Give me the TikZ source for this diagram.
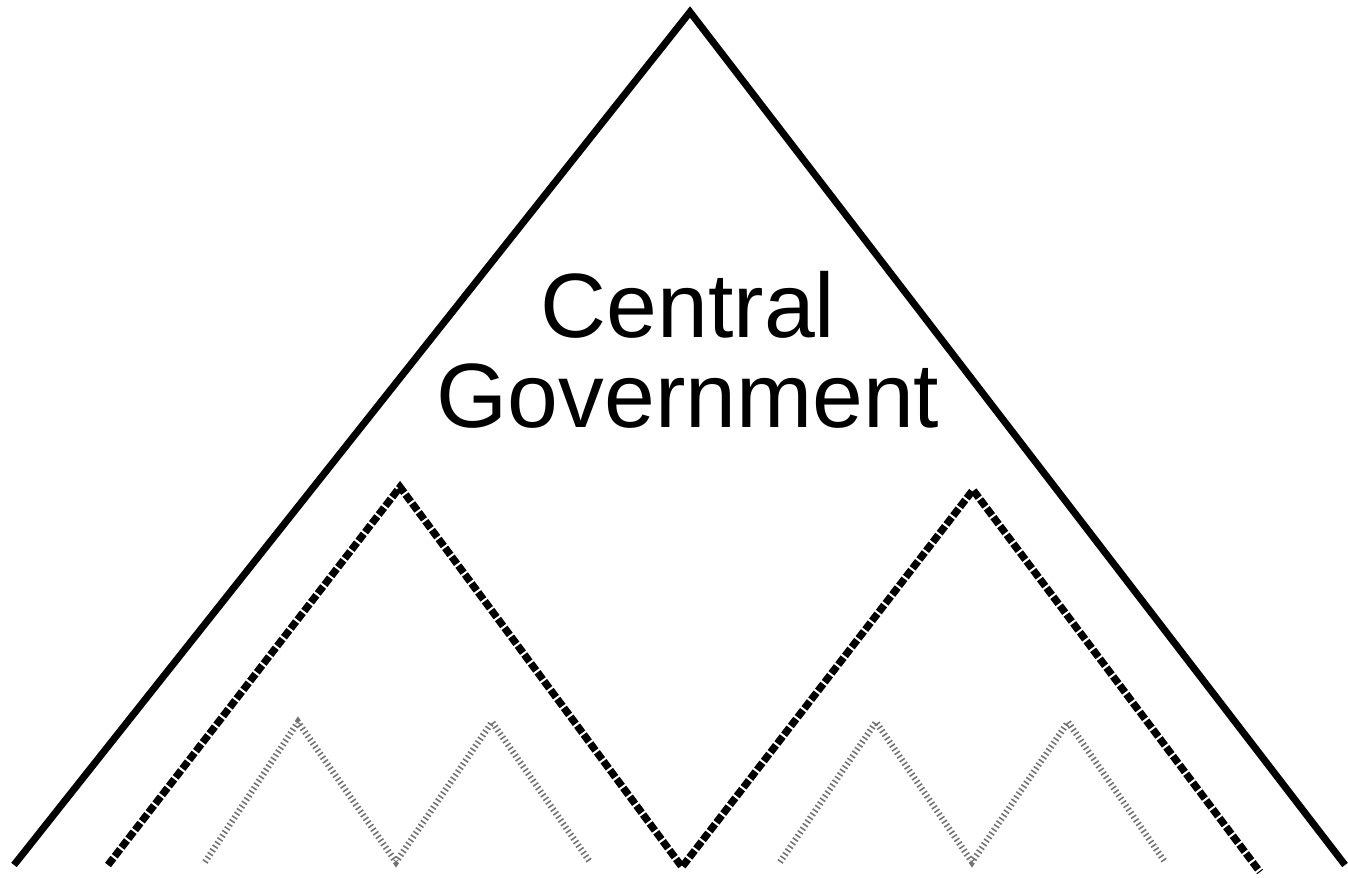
\documentclass[tikz,border=0pt]{standalone}
\usepackage{fontspec}
\setmainfont{Liberation Sans}
\begin{document}
\begin{tikzpicture}[x=0.02cm, y=-0.02cm,
                    main_style/.style={draw=black, line width=4pt, line join=miter},
                    mid_style/.style={draw=black, line width=4.2pt, dash pattern=on 5pt off 1.3pt},
                    low_style/.style={draw=black!55, line width=3.6pt, dash pattern=on 0.9pt off 1.6pt}]
                    \useasboundingbox (0,0) rectangle (1348,878);
                    % central government
                    \coordinate (c1) at (14, 865);
                    \coordinate (c2) at (690, 12);
                    \coordinate (c3) at (1345, 865);
                    % regional level
                    \coordinate (r1) at (108, 865);
                    \coordinate (r2) at (400, 487);
                    \coordinate (r3) at (682, 867);
                    \coordinate (r4) at (973, 490);
                    \coordinate (r5) at (1260, 872);
                    % local level
                    \coordinate (l1) at (205, 862);
                    \coordinate (l2) at (298, 722);
                    \coordinate (l3) at (396, 862);
                    \coordinate (l4) at (492, 722);
                    \coordinate (l5) at (590, 862);
                    \coordinate (l6) at (780, 862);
                    \coordinate (l7) at (876, 722);
                    \coordinate (l8) at (972, 862);
                    \coordinate (l9) at (1068, 722);
                    \coordinate (l10) at (1165, 862);
                    \draw[main_style] (c1) -- (c2) -- (c3);
                    \draw[mid_style] (r1) -- (r2) -- (r3) -- (r4) -- (r5);
                    \draw[low_style] (l1) -- (l2) -- (l3) -- (l4) -- (l5);
                    \draw[low_style] (l6) -- (l7) -- (l8) -- (l9) -- (l10);
                    \node[align=center, font=\fontsize{52}{51}\selectfont] (gov) at (688, 350) {Central\\Government};
                \end{tikzpicture}
\end{document}
